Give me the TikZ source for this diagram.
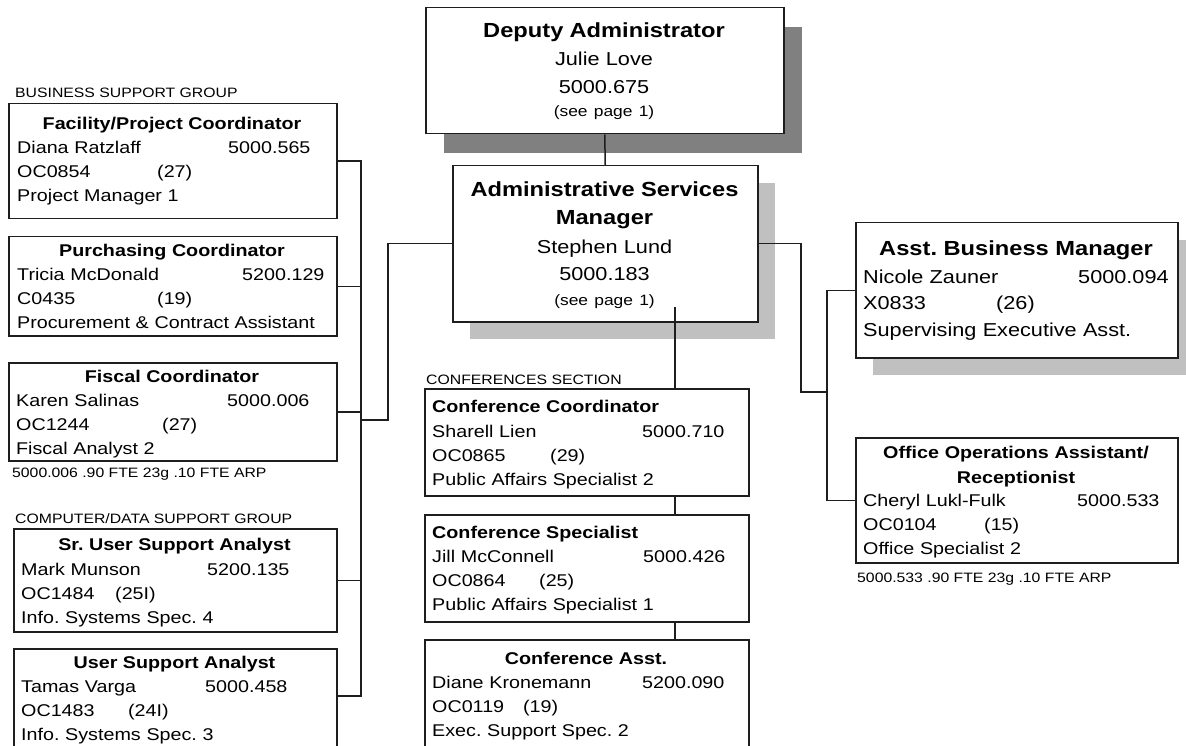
\documentclass[tikz,border=0pt]{standalone}
\usepackage{fontspec}
\setmainfont{Liberation Sans}[FakeStretch=1.16]
\usetikzlibrary{shadows}
\frenchspacing

\definecolor{boxline}{HTML}{1E1E1E}
\definecolor{shadowdark}{HTML}{808080}
\definecolor{shadowlight}{HTML}{C0C0C0}

\tikzset{
  posbox/.style={draw=boxline, line width=1.5pt, fill=white, anchor=north west, inner sep=0pt},
  darkshadow/.style={drop shadow={shadow xshift=18pt, shadow yshift=-19pt, fill=shadowdark, opacity=1}},
  lightshadow/.style={drop shadow={shadow xshift=17pt, shadow yshift=-17pt, fill=shadowlight, opacity=1}},
  jobtitle/.style={font=\fontsize{17}{24}\selectfont\bfseries, anchor=base, inner sep=0pt},
  jobtext/.style={font=\fontsize{17}{24}\selectfont, anchor=base west, align=left, text width=320pt, inner sep=0pt},
  bigtext/.style={font=\fontsize{18.7}{28}\selectfont, anchor=base, align=center, text width=340pt, inner sep=0pt},
  grouplabel/.style={font=\fontsize{13.6}{16}\selectfont, anchor=base west, inner sep=0pt},
  link/.style={draw=boxline, line width=1.5pt}
}

\begin{document}
\begin{tikzpicture}[x=1pt, y=-1pt]
  \path[use as bounding box, fill=white] (0,0) rectangle (1186,746);

  % Deputy and manager
  \node[posbox, darkshadow, minimum width=358pt, minimum height=126pt] (dep) at (425,7) {};
  \node[bigtext] (depT) at (604,38) {{\fontsize{20.4}{28}\selectfont\bfseries Deputy Administrator}\\
    Julie Love\\ 5000.675\\[-5pt] {\fontsize{15}{18}\selectfont (see page 1)}};

  \node[posbox, lightshadow, minimum width=305pt, minimum height=156pt] (asm) at (452,165) {};
  \node[bigtext] (asmT) at (604.5,197) {{\fontsize{20.4}{28}\selectfont\bfseries Administrative Services}\\
    {\fontsize{20.4}{28}\selectfont\bfseries Manager}\\ Stephen Lund\\ 5000.183\\[-4pt]
    {\fontsize{15}{18}\selectfont (see page 1)}};

  % Business support group
  \node[grouplabel] (lblBiz) at (15,98) {BUSINESS SUPPORT GROUP};

  \node[posbox, minimum width=328pt, minimum height=115pt] (fac) at (8,103) {};
  \node[jobtitle] (facT) at (172,130) {Facility/Project Coordinator};
  \node[jobtext] (facB) at (17,154) {\makebox[211pt][l]{Diana Ratzlaff}5000.565\\
    \makebox[140pt][l]{OC0854}(27)\\ Project Manager 1};

  \node[posbox, minimum width=328pt, minimum height=99pt] (pur) at (8,236) {};
  \node[jobtitle] (purT) at (172,257) {Purchasing Coordinator};
  \node[jobtext] (purB) at (17,280) {\makebox[225pt][l]{Tricia McDonald}5200.129\\
    \makebox[140pt][l]{C0435}(19)\\ Procurement \& Contract Assistant};

  \node[posbox, minimum width=328pt, minimum height=98pt] (fis) at (8,362) {};
  \node[jobtitle] (fisT) at (172,382) {Fiscal Coordinator};
  \node[jobtext] (fisB) at (16,406) {\makebox[211pt][l]{Karen Salinas}5000.006\\
    \makebox[146pt][l]{OC1244}(27)\\ Fiscal Analyst 2};
  \node[grouplabel] (noteFis) at (12,477) {5000.006 .90 FTE 23g .10 FTE ARP};

  % Computer/data support group
  \node[grouplabel] (lblComp) at (15,523) {COMPUTER/DATA SUPPORT GROUP};

  \node[posbox, minimum width=323pt, minimum height=103pt] (sru) at (13,528) {};
  \node[jobtitle] (sruT) at (174.5,550) {Sr. User Support Analyst};
  \node[jobtext] (sruB) at (21,575) {\makebox[186pt][l]{Mark Munson}5200.135\\
    \makebox[94pt][l]{OC1484}(25I)\\ Info. Systems Spec. 4};

  \node[posbox, minimum width=323pt, minimum height=112pt] (usr) at (13,648) {};
  \node[jobtitle] (usrT) at (174.5,668) {User Support Analyst};
  \node[jobtext] (usrB) at (21,692) {\makebox[184pt][l]{Tamas Varga}5000.458\\
    \makebox[107pt][l]{OC1483}(24I)\\ Info. Systems Spec. 3};

  % Conferences section
  \node[grouplabel] (lblConf) at (426,384) {CONFERENCES SECTION};

  \node[posbox, minimum width=324pt, minimum height=107pt] (ccoord) at (424,388) {};
  \node[jobtitle, anchor=base west] (ccoordT) at (432,412) {Conference Coordinator};
  \node[jobtext] (ccoordB) at (432,437) {\makebox[210pt][l]{Sharell Lien}5000.710\\
    \makebox[118pt][l]{OC0865}(29)\\ Public Affairs Specialist 2};

  \node[posbox, minimum width=324pt, minimum height=107pt] (cspec) at (424,514) {};
  \node[jobtitle, anchor=base west] (cspecT) at (432,538) {Conference Specialist};
  \node[jobtext] (cspecB) at (432,562) {\makebox[211pt][l]{Jill McConnell}5000.426\\
    \makebox[107pt][l]{OC0864}(25)\\ Public Affairs Specialist 1};

  \node[posbox, minimum width=324pt, minimum height=121pt] (casst) at (424,639) {};
  \node[jobtitle] (casstT) at (586,664) {Conference Asst.};
  \node[jobtext] (casstB) at (432,688) {\makebox[210pt][l]{Diane Kronemann}5200.090\\
    \makebox[91pt][l]{OC0119}(19)\\ Exec. Support Spec. 2};

  % Right side
  \node[posbox, lightshadow, minimum width=322pt, minimum height=135pt] (abm) at (855,222) {};
  \node[jobtitle, font=\fontsize{20.4}{28}\selectfont\bfseries] (abmT) at (1016,255) {Asst. Business Manager};
  \node[jobtext, font=\fontsize{18.7}{27}\selectfont] (abmB) at (863,283) {\makebox[215pt][l]{Nicole Zauner}5000.094\\
    \makebox[133pt][l]{X0833}(26)\\ Supervising Executive Asst.};

  \node[posbox, minimum width=322pt, minimum height=125pt] (ofc) at (855,437) {};
  \node[jobtitle, font=\fontsize{17}{25}\selectfont\bfseries, align=center, text width=310pt] (ofcT) at (1016,458)
    {Office Operations Assistant/\\ Receptionist};
  \node[jobtext] (ofcB) at (863,506) {\makebox[214pt][l]{Cheryl Lukl-Fulk}5000.533\\
    \makebox[121pt][l]{OC0104}(15)\\ Office Specialist 2};
  \node[grouplabel] (noteOfc) at (857,582) {5000.533 .90 FTE 23g .10 FTE ARP};

  % Connectors
  \coordinate (lbus) at (361,420);
  \coordinate (ljog) at (388,420);
  \coordinate (rjog) at (801,392);
  \coordinate (rbus) at (827,392);
  \coordinate (cbus) at (675,307);

  \draw[link] (dep.south) -- (asm.north);
  \draw[link] (asm.west) -| (ljog) -- (lbus);
  \draw[link] (fac.east) -| (lbus) |- ([yshift=-48pt]usr.north east);
  \draw[link] (pur.east) -- (pur.east -| lbus);
  \draw[link] (fis.east) -- (fis.east -| lbus);
  \draw[link] (sru.east) -- (sru.east -| lbus);

  \draw[link] (asm.east) -| (rjog) -- (rbus);
  \draw[link] (abm.west) -| (rbus) |- (ofc.west);

  \draw[link] (cbus) -- (cbus |- ccoord.north);
  \draw[link] (cbus |- ccoord.south) -- (cbus |- cspec.north);
  \draw[link] (cbus |- cspec.south) -- (cbus |- casst.north);
\end{tikzpicture}
\end{document}
